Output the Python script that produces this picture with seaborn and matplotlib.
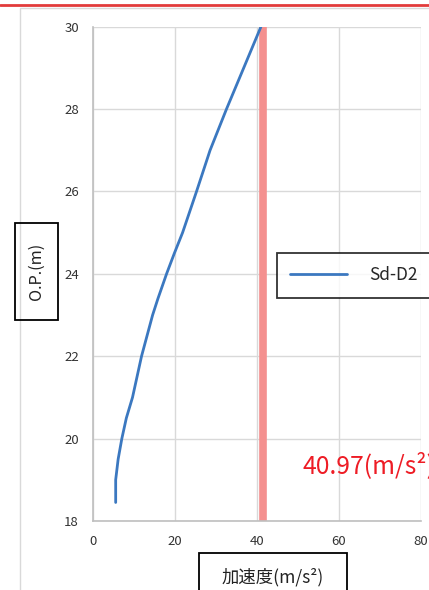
import matplotlib
matplotlib.use("Agg")
import matplotlib.pyplot as plt
import seaborn as sns
import pandas as pd
from matplotlib.patches import Rectangle

# data
elevation = [18.45, 19.0, 19.5, 20.0, 20.5, 21.0, 22.0, 23.0, 23.4, 24.0,
             24.5, 25.0, 26.0, 27.0, 28.0, 29.0, 30.0]
accel = [5.6, 5.6, 6.2, 7.1, 8.2, 9.7, 11.9, 14.6, 15.9, 18.0,
         19.9, 21.9, 25.3, 28.6, 32.6, 36.8, 41.0]
series_name = "Sd-D2"
limit_pos = 41.6
limit_text = "40.97(m/s²)"
x_ticks = [0, 20, 40, 60, 80]
y_ticks = [18, 20, 22, 24, 26, 28, 30]

sns.set_theme(style="white")
plt.rcParams["font.family"] = ["Noto Sans CJK JP", "DejaVu Sans"]

W, H = 429, 590
fig = plt.figure(figsize=(W / 100, H / 100), dpi=100)
ax = fig.add_axes([92.7 / W, 1 - 521 / H, (421 - 92.7) / W, (521 - 26.7) / H])

df = pd.DataFrame({"accel": accel, "elev": elevation, "name": series_name})

# limit band
ax.axvline(limit_pos, color="#f4908f", lw=5.5, zorder=2)
sns.lineplot(data=df, x="accel", y="elev", sort=False, estimator=None,
             color="#3b78c0", lw=2, label=series_name, ax=ax, zorder=3)

ax.set_xlim(0, 80)
ax.set_ylim(18, 30)
ax.set_xticks(x_ticks)
ax.set_yticks(y_ticks)
ax.tick_params(labelsize=9.5, colors="#333333", length=0, pad=10)
ax.grid(True, color="#d9d9d9", lw=1)
for s in ["top", "right"]:
    ax.spines[s].set_visible(False)
for s in ["left", "bottom"]:
    ax.spines[s].set_color("#bfbfbf")
    ax.spines[s].set_linewidth(1.2)
ax.set_xlabel("")
ax.set_ylabel("")

ax.text(51.2, 19.34, limit_text, color="#ee1c25", fontsize=17.8,
        va="center", ha="left", clip_on=False)

leg = ax.legend(loc="center", bbox_to_anchor=(354 / W, 1 - 275.5 / H),
                bbox_transform=fig.transFigure, fontsize=12.5, frameon=True,
                fancybox=False, edgecolor="black", handlelength=3.3,
                handletextpad=1.3, borderpad=0.75, borderaxespad=0)
leg.get_frame().set_linewidth(1.3)

# outer chart border and red rule on top
fig.patches.append(Rectangle((20 / W, -0.1), 1.1, 1 - 8 / H + 0.1,
                             transform=fig.transFigure, fill=False,
                             edgecolor="#d9d9d9", lw=1))
fig.lines.append(plt.Line2D([0, 1], [1 - 4.5 / H] * 2, transform=fig.transFigure,
                            color="#e23b3b", lw=2))

# axis title boxes
fig.patches.append(Rectangle((15 / W, 1 - 320 / H), 43 / W, 97 / H,
                             transform=fig.transFigure, fill=False,
                             edgecolor="black", lw=1.3))
fig.text(36.5 / W, 1 - 271.5 / H, "O.P.(m)", rotation=90, fontsize=11.7,
         ha="center", va="center", color="#222222")
fig.patches.append(Rectangle((199 / W, -0.05), 148 / W, (590 - 553) / H + 0.05,
                             transform=fig.transFigure, fill=False,
                             edgecolor="black", lw=1.3))
fig.text(273 / W, 1 - 577 / H, "加速度(m/s²)", fontsize=12.5,
         ha="center", va="center", color="#222222")

fig.savefig("out.png", dpi=100)
